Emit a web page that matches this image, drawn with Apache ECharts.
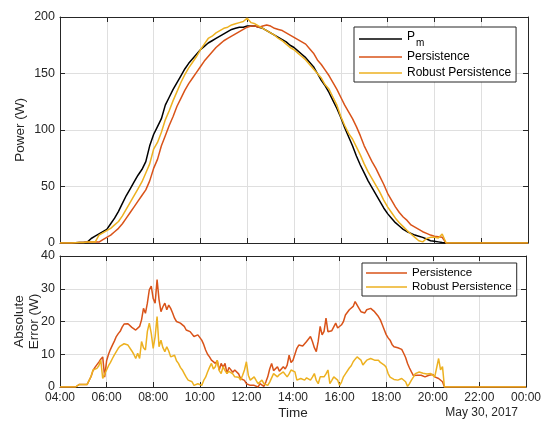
<!DOCTYPE html>
<html>
<head>
<meta charset="utf-8">
<script src="https://cdn.jsdelivr.net/npm/echarts@6/dist/echarts.min.js"></script>
<style>html,body{margin:0;padding:0;background:#fff}#c{width:544px;height:421px}</style>
</head>
<body>
<div id="c"></div>
<script>
// ---- Data ----
// Power series: 10-minute samples starting 04:00, ending 24:00 (00:00)
const powerStartHour = 4;
const powerStepHours = 1 / 6;
const pm = [
  0,0,0,0,0.3,0.5,            // 04
  0.5,0.8,4,6,8,10,           // 05
  12,17,22,28,35,42,          // 06
  48,54,60,65,72,86,          // 07
  96,103,110,122,129,136,     // 08
  142,148,154,159,163,167,    // 09
  171,174,177,179,181,183,    // 10
  185,187,189,190,191,191,    // 11
  192,192,192,191,190,188,    // 12
  186,184,182,180,178,175,    // 13
  173,170,167,164,160,156,    // 14
  150,144,139,133,126,119,    // 15
  111,102,94,86,77,69,        // 16
  62,55,49,43,37,31,          // 17
  26,22,18,15,12,10,          // 18
  8.5,7,6,5,3.5,2,            // 19
  1.5,1,0.5,0.2,0,0,          // 20
  0,0,0,0,0,0,                // 21
  0,0,0,0,0,0,                // 22
  0,0,0,0,0,0,                // 23
  0                           // 24
];
const persistence = [
  0,0,0,0,0.3,0.5,
  0.5,0.8,0.8,0.8,0.8,3,
  5,7,10,13,17,22,
  27,32,37,42,47,55,
  66,74,86,95,104,112,
  121,128,135,141,146,151,
  156,161,165,169,173,176,
  179,181,183,185,187,189,
  191,192,192,191,192,193,
  192,190,189,188,186,184,
  182,180,178,176,172,168,
  162,158,153,148,142,136,
  129,122,116,110,103,95,
  86,79,72,66,59,52,
  44,38,32,27,23,20,
  16,14,12,10,8.5,7,
  6,5.5,5,0,0,0,
  0,0,0,0,0,0,
  0,0,0,0,0,0,
  0,0,0,0,0,0,
  0
];
const robust = [
  0,0,0,0,0.3,0.5,
  0.5,0.8,0.8,0.8,7,9,
  11,13,16,19,24,30,
  36,42,48,54,62,70,
  83,89,98,109,117,126,
  134,142,149,155,160,165,
  171,176,181,183,186,188,
  190,191,193,194,195,196,
  199,195,194,192,190,188,
  186,184,181,179,176,173,
  171,168,165,162,158,154,
  150,146,140,136,129,122,
  112,104,97,92,85,78,
  70,63,57,51,45,38,
  32,27,22,18,14.5,11,
  8,5,2,1,4,5,
  5,4.5,8,0,0,0,
  0,0,0,0,0,0,
  0,0,0,0,0,0,
  0,0,0,0,0,0,
  0
];
// Absolute error series: 5-minute samples starting 04:00
const errStartHour = 4;
const errStepHours = 1 / 12;
const errPersistence = [
  0,0,0,0,0,0,0,0,0,0,0.8,0.8,                          // 04
  0.8,0.9,0.8,0.8,3.2,5,6,6.5,7.6,8.5,9.2,3,            // 05
  8,10,11.5,12.8,14,15.4,16.3,17,18.3,19.2,19.5,19.3,   // 06
  19,18.2,18.6,17.4,17.8,18.5,20.5,24,22.5,25.6,29.7,30.8, // 07
  27,25.6,32.8,26.7,23,24.5,25.6,23.6,25,24,22.6,21,    // 08
  20,19.5,19.5,19,18.5,17.4,17,16.9,17,15.4,16,15.9,    // 09
  15.5,14.3,13,11.3,10,9.2,8.2,8.5,7.2,8,5.2,7.2,       // 10
  6,7.2,4.1,6,6.2,4.5,5.2,5.2,4,2.6,3,2,                // 11
  1,1.5,0.5,0.8,0.5,0.2,0,1,0.5,0.2,1.5,3.1,            // 12
  5.5,7.2,5,5.2,6.2,4.8,5.2,6.2,5.5,6.7,9.7,7.5,        // 13
  8.2,10,11.8,12.8,12.3,12.5,13,13.9,13.5,15.4,13.9,12, // 14
  10.8,14,18.5,15.9,17,21,16.9,17.5,17.2,17.4,19.5,18,  // 15
  18.5,19,20,22,22.5,23.6,23,24.6,26.1,26.5,24,23,      // 16
  23.5,22.6,23.6,23,24,23.5,23,22.6,21.5,20.5,19,17.5,  // 17
  16,15,14.3,13,12.3,11.8,12,12.3,11.5,10.3,9,7.2,      // 18
  5.8,4.6,3.5,3.1,3.6,3.4,3.6,3.3,3.1,3.4,3.6,4.1,      // 19
  3.8,3.1,2.8,2.6,2,1.6,0,0,0,0,0,0,                    // 20
  0,0,0,0,0,0,0,0,0,0,0,0,                              // 21
  0,0,0,0,0,0,0,0,0,0,0,0,                              // 22
  0,0,0,0,0,0,0,0,0,0,0,0,                              // 23
  0                                                     // 24
];
const errRobust = [
  0,0,0,0,0,0,0,0,0,0,0.8,0.8,                          // 04
  0.8,0.9,0.8,0.8,3.2,5.2,5.5,5.7,6.5,8.2,2.6,4,        // 05
  5.2,6.5,7.5,8.7,9.8,10.8,11.8,12.5,13,13.2,13.3,12.8, // 06
  12.3,11,10,8.7,10.3,8.7,13.9,12,11.3,17,19.5,16.4,    // 07
  11.8,15.4,21.5,12.3,14.3,12,10.8,12.3,11,9.2,9,9.7,   // 08
  8,7.2,6,5.2,4.1,3,2.1,1.8,1.6,0.5,0.8,1,              // 09
  0.5,0.5,2,3,4.6,6,7.2,5.5,6.2,8.2,5,4.1,              // 10
  6.2,5,4.1,4.8,5.2,4,3.1,3.6,3,2.1,3.5,5.2,            // 11
  7.7,3.6,2.1,2.6,3.1,2,1,1.6,2.1,1,0.8,0.5,            // 12
  1.5,2.1,4.1,3.5,3.1,3.8,4.1,4.6,5.2,3.1,4,5.2,        // 13
  4.8,4.6,2.1,2.4,2.6,2.3,2.1,2.8,3.1,2.1,3,4.1,        // 14
  2,1,3.1,2.5,3.1,4,5.2,1,2,3.1,2.6,2.1,                // 15
  0.5,1.5,3.1,4,4.6,5.8,6.5,7.7,8.5,9.2,8.8,8.2,        // 16
  6.7,7.5,8.2,8.7,8.7,9,8.2,8.2,8.2,7.5,7.2,6.7,        // 17
  6,4.1,3,2.6,2.3,2.1,2.1,2.2,2.6,2,1.6,0.2,            // 18
  1,2.1,3,4.1,4.4,4.6,4.1,4.2,4.3,4,3.8,4.1,            // 19
  4,3.1,3.5,8.7,5.2,6.2,0,0,0,0,0,0,                    // 20
  0,0,0,0,0,0,0,0,0,0,0,0,                              // 21
  0,0,0,0,0,0,0,0,0,0,0,0,                              // 22
  0,0,0,0,0,0,0,0,0,0,0,0,                              // 23
  0                                                     // 24
];
const xTicks = { min: 4, max: 24, interval: 2 };
const powerTicks = { min: 0, max: 200, interval: 50 };
const errTicks = { min: 0, max: 40, interval: 10 };
const dateLabel = 'May 30, 2017';

// ---- Chart ----
const FONT = '"Liberation Sans", Arial, Helvetica, sans-serif';
const AX = '#262626';
const GRIDC = '#dfdfdf';
const C_PM = '#000000', C_P = '#D95319', C_R = '#EDB120';

const toXY = (arr, start, step) => arr.map((v, i) => [start + i * step, v]);
const fmtHour = v => { const h = Math.round(v) % 24; return (h < 10 ? '0' : '') + h + ':00'; };

function xAx(grid, pos, labels, name) {
  return {
    gridIndex: grid, type: 'value', position: pos,
    min: xTicks.min, max: xTicks.max, interval: xTicks.interval,
    axisLine: { show: true, onZero: false, lineStyle: { color: AX, width: 1 } },
    axisTick: { show: true, inside: true, length: 5, lineStyle: { color: AX } },
    axisLabel: { show: labels, formatter: fmtHour, color: AX, fontSize: 12, fontFamily: FONT, margin: 5, showMinLabel: true, showMaxLabel: true },
    splitLine: { show: pos === 'bottom', lineStyle: { color: GRIDC, width: 1 } },
    name: name || '', nameLocation: 'middle', nameGap: 19, nameMoveOverlap: false,
    nameTextStyle: { color: AX, fontSize: 13.5, fontFamily: FONT }
  };
}
function yAx(grid, pos, t, labels, name, gap) {
  return {
    gridIndex: grid, type: 'value', position: pos,
    min: t.min, max: t.max, interval: t.interval,
    axisLine: { show: true, onZero: false, lineStyle: { color: AX, width: 1 } },
    axisTick: { show: true, inside: true, length: 5, lineStyle: { color: AX } },
    axisLabel: { show: labels, color: AX, fontSize: 12.5, fontFamily: FONT, margin: 5 },
    splitLine: { show: pos === 'left', lineStyle: { color: GRIDC, width: 1 } },
    name: name || '', nameLocation: 'middle', nameGap: gap || 30, nameMoveOverlap: false,
    nameTextStyle: { color: AX, fontSize: 13.5, fontFamily: FONT, lineHeight: 15 }
  };
}
function line(name, data, color, xi, yi) {
  return {
    name, type: 'line', data, xAxisIndex: xi, yAxisIndex: yi,
    symbol: 'none', showSymbol: false, animation: false,
    lineStyle: { color, width: 1.5 }, itemStyle: { color }
  };
}

const chart = echarts.init(document.getElementById('c'), null, { renderer: 'canvas' });
chart.setOption({
  backgroundColor: '#fff',
  animation: false,
  grid: [
    { left: 60, right: 16, top: 17, height: 226 },
    { left: 60, right: 16, top: 256, height: 131 }
  ],
  xAxis: [
    xAx(0, 'bottom', false), xAx(0, 'top', false),
    xAx(1, 'bottom', true, 'Time'), xAx(1, 'top', false)
  ],
  yAxis: [
    yAx(0, 'left', powerTicks, true, 'Power (W)', 32),
    yAx(0, 'right', powerTicks, false),
    yAx(1, 'left', errTicks, true, 'Absolute\nError (W)', 18),
    yAx(1, 'right', errTicks, false)
  ],
  legend: [
    {
      data: ['Pm', 'Persistence', 'Robust Persistence'],
      orient: 'vertical', left: 354, top: 27,
      icon: 'rect', itemWidth: 43, itemHeight: 1.6, itemGap: 2,
      padding: [3, 5, 2, 5],
      borderColor: AX, borderWidth: 1, backgroundColor: '#fff',
      selectedMode: false,
      formatter: n => n === 'Pm' ? '{p|P}{m|m}' : n,
      textStyle: {
        color: '#000', fontSize: 12, fontFamily: FONT, lineHeight: 14,
        rich: {
          p: { fontSize: 12, fontFamily: FONT, lineHeight: 14, padding: [0, 0, 4, 0], color: '#000' },
          m: { fontSize: 10, fontFamily: FONT, lineHeight: 10, padding: [8, 0, 0, 1], color: '#000' }
        }
      }
    },
    {
      data: ['Persistence', 'Robust Persistence'],
      orient: 'vertical', left: 362, top: 263,
      icon: 'rect', itemWidth: 41, itemHeight: 1.6, itemGap: 0,
      padding: [3, 5, 2, 4],
      borderColor: AX, borderWidth: 1, backgroundColor: '#fff',
      selectedMode: false,
      textStyle: { color: '#000', fontSize: 11.5, fontFamily: FONT, lineHeight: 14 }
    }
  ],
  graphic: [
    { type: 'text', x: 518, y: 413, style: { text: dateLabel, textAlign: 'right', textVerticalAlign: 'middle', fontSize: 12, fontFamily: FONT, fill: AX } }
  ],
  series: [
    line('Pm', toXY(pm, powerStartHour, powerStepHours), C_PM, 0, 0),
    line('Persistence', toXY(persistence, powerStartHour, powerStepHours), C_P, 0, 0),
    line('Robust Persistence', toXY(robust, powerStartHour, powerStepHours), C_R, 0, 0),
    line('Persistence', toXY(errPersistence, errStartHour, errStepHours), C_P, 2, 2),
    line('Robust Persistence', toXY(errRobust, errStartHour, errStepHours), C_R, 2, 2)
  ]
});
</script>
</body>
</html>
